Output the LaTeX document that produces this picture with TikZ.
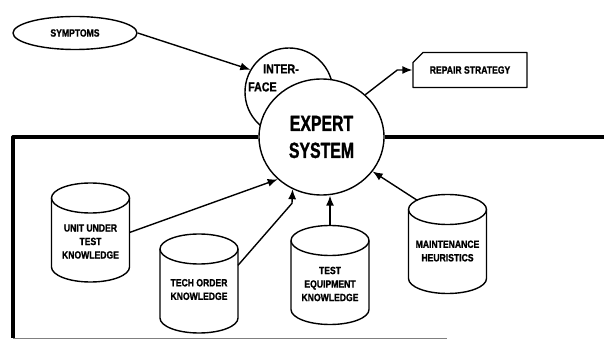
\documentclass[tikz,border=0pt]{standalone}
\usepackage{fontspec}
\newfontfamily\tagfont[FakeStretch=0.82, FakeBold=1.2]{Liberation Sans}
\newfontfamily\headfont[FakeStretch=0.72, FakeBold=1.2]{Liberation Sans}
\usetikzlibrary{arrows.meta, positioning, shapes.geometric, shapes.misc, calc}

\tikzset{
  flow/.style={-{Latex[length=10pt,width=8pt]}, line width=1.4pt},
  tag/.style={font=\tagfont\bfseries\fontsize{10.5}{13.5}\selectfont,
    align=center, inner sep=0pt},
  drum/.style={rectangle, minimum width=78pt, minimum height=99pt,
    inner sep=0pt, outer sep=0pt},
  drumline/.style={line width=1.4pt},
  frameline/.style={line width=3.2pt}
}

\begin{document}
\begin{tikzpicture}[x=1pt, y=1pt, line join=round]
\useasboundingbox (0,0) rectangle (604,340);

% --- frame ---
\coordinate (frameNW) at (13,203);
\coordinate (frameSW) at (13,2);
\coordinate (frameSE) at (447,2);
\coordinate (frameNE) at (604,203);

% --- knowledge bases ---
\node[drum] (uut)   at (90.5,107.5) {};
\node[drum] (tech)  at (199,56.5) {};
\node[drum] (equip) at (330,65) {};
\node[drum] (maint) at (447.5,96) {};
\foreach \d in {uut,tech,equip,maint} {
  \draw[drumline] ([yshift=-15pt]\d.north west) -- ([yshift=15pt]\d.south west)
    arc[start angle=180, end angle=360, x radius=39pt, y radius=15pt]
    -- ([yshift=-15pt]\d.north east);
  \draw[drumline] ([yshift=-15pt]\d.north) ellipse[x radius=39pt, y radius=15pt];
}
\node[tag] (uutlabel)   at ([yshift=-9pt]uut.center)   {UNIT UNDER\\TEST\\KNOWLEDGE};
\node[tag] (techlabel)  at ([yshift=-6pt]tech.center)  {TECH ORDER\\KNOWLEDGE};
\node[tag] (equiplabel) at ([yshift=-9pt]equip.center) {TEST\\EQUIPMENT\\KNOWLEDGE};
\node[tag] (maintlabel) at ([yshift=-7pt]maint.center) {MAINTENANCE\\HEURISTICS};

% --- expert system ---
\node[circle, draw, fill=white, line width=1.4pt, minimum size=88pt] (iface) at (289,248) {};
\node[ellipse, draw, fill=white, line width=1.4pt, minimum width=125pt,
  minimum height=116pt, inner sep=0pt, align=center,
  font=\headfont\bfseries\fontsize{22}{27}\selectfont] (expert) at (321.5,203) {EXPERT\\SYSTEM};
\node[tag, font=\tagfont\bfseries\fontsize{13}{18}\selectfont, align=left,
  anchor=west] (ifacelabel) at (248,262) {\hspace*{15pt}INTER-\\FACE};

\draw[frameline] (expert.west) -- (frameNW) -- (frameSW);
\draw[gray, line width=0.8pt] (frameSW) -- (frameSE);
\draw[frameline] (expert.east) -- (frameNE);

% --- input / output ---
\node[ellipse, draw, line width=1.4pt, minimum width=124pt, minimum height=33pt, tag] (symptoms) at (75,307) {SYMPTOMS};
\node[chamfered rectangle, chamfered rectangle corners=north west,
  chamfered rectangle xsep=3pt, chamfered rectangle ysep=7pt,
  draw, line width=1.4pt, minimum width=114pt, minimum height=35pt, tag] (repair) at (470,270) {REPAIR STRATEGY};

% --- connectors ---
\draw[flow] (symptoms.east) -- (iface.150);
\draw[flow] (expert.44) -- ($(repair.west)+(-15,0)$) -- (repair.west);
\draw[flow] (uut.east) -- (expert.224);
\draw[flow] (tech.25) -- ++(54,62) -- (expert.241);
\draw[flow] (equip.north) -- (equip.north |- expert.south);
\draw[flow] ([xshift=-30pt,yshift=-6pt]maint.north) -- (expert.-34);

\end{tikzpicture}
\end{document}
